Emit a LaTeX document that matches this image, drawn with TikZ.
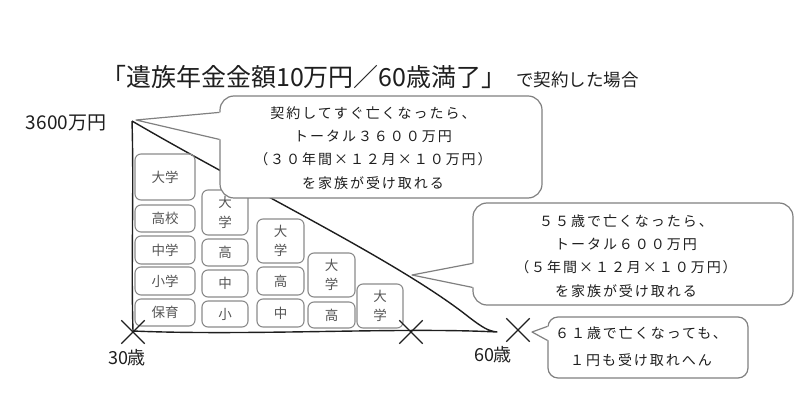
\documentclass[tikz,border=0pt]{standalone}
\usepackage{fontspec}
\setmainfont{Noto Sans CJK JP}
\newfontfamily\jp{Noto Sans CJK JP}
\newfontfamily\jpls[LetterSpace=14]{Noto Sans CJK JP}
\usetikzlibrary{shapes.misc}
\definecolor{ink}{HTML}{1E1E1E}
\definecolor{boxline}{HTML}{8A8A8A}
\definecolor{boxtext}{HTML}{555555}
\definecolor{bubline}{HTML}{808080}
\begin{document}
\begin{tikzpicture}[x=1pt,y=-1pt,
  cell/.style={draw=boxline, line width=1.1pt, rounded corners=6pt, inner sep=0pt, text=boxtext, font=\jp\fontsize{13.5}{19.5}\selectfont, align=center},
  bubble/.style={draw=bubline, line width=1.2pt, rounded corners=14pt, fill=white, inner sep=0pt},
  btext/.style={text=ink, align=center, inner sep=0pt, font=\jpls\fontsize{14}{23.3}\selectfont},
  pointer/.style={draw=bubline, line width=1.2pt, line join=round},
  axis/.style={draw=ink, line width=1.4pt, line join=round},
  xmark/.style={cross out, draw=ink, line width=1.4pt, minimum size=22pt, inner sep=0pt},
  lbl/.style={text=ink, inner sep=0pt}
]
\useasboundingbox (0,0) rectangle (800,419);

% title
\node[lbl, anchor=west, font=\jp\fontsize{25}{25}\selectfont] (t1) at (101,77) {「遺族年金金額10万円／60歳満了」};
\node[lbl, anchor=base west, font=\jp\fontsize{17.5}{17.5}\selectfont] (t2) at ([xshift=9pt]t1.base east) {で契約した場合};

% axis labels
\node[lbl, font=\jp\fontsize{19}{19}\selectfont] (top) at (66,123) {3600万円};
\node[lbl, font=\jp\fontsize{18}{18}\selectfont] (a30) at (127,358) {30歳};
\node[lbl, font=\jp\fontsize{18}{18}\selectfont] (a60) at (493,355) {60歳};

% triangle
\coordinate (T) at (132,121);
\coordinate (O) at (133,331);
\coordinate (E) at (497,332);
\draw[axis] (T) .. controls (134,190) and (131,265) .. (O)
  .. controls (250,336) and (400,327) .. (E)
  .. controls (488,331) and (482,327) .. (470,318)
  .. controls (400,262) and (250,190) .. (T);

% cells column 1
\node[cell, minimum width=60pt, minimum height=46pt] (c11) at (165,177) {大学};
\node[cell, minimum width=60pt, minimum height=27pt] (c12) at (165,218.5) {高校};
\node[cell, minimum width=60pt, minimum height=28pt] (c13) at (165,250) {中学};
\node[cell, minimum width=60pt, minimum height=28pt] (c14) at (165,281) {小学};
\node[cell, minimum width=60pt, minimum height=27pt] (c15) at (165,312.5) {保育};
% column 2
\node[cell, minimum width=46pt, minimum height=45pt] (c21) at (225,212.5) {大\\学};
\node[cell, minimum width=46pt, minimum height=27pt] (c22) at (225,252.5) {高};
\node[cell, minimum width=46pt, minimum height=27pt] (c23) at (225,283.5) {中};
\node[cell, minimum width=46pt, minimum height=26pt] (c24) at (225,314) {小};
% column 3
\node[cell, minimum width=47pt, minimum height=44pt] (c31) at (280.5,241) {大\\学};
\node[cell, minimum width=47pt, minimum height=28pt] (c32) at (280.5,281) {高};
\node[cell, minimum width=47pt, minimum height=28pt] (c33) at (280.5,313) {中};
% column 4
\node[cell, minimum width=47pt, minimum height=44pt] (c41) at (331.5,275) {大\\学};
\node[cell, minimum width=47pt, minimum height=26pt] (c42) at (331.5,315) {高};
% column 5
\node[cell, minimum width=46pt, minimum height=44pt] (c51) at (380,306) {大\\学};

% x marks
\node[xmark] (x30) at (133,332) {};
\node[xmark] (x55) at (411,332) {};
\node[xmark] (x61) at (518,330) {};

% bubble 1
\node[bubble, minimum width=322pt, minimum height=102pt] (b1) at (381,147) {};
\node[btext] (b1t) at (373,148)
  {契約してすぐ亡くなったら、\\トータル３６００万円\\（３０年間×１２月×１０万円）\\を家族が受け取れる};
\coordinate (p1) at (136,120);
\fill[white] ([xshift=1.5pt,yshift=-17pt]b1.north west) -- (p1) -- ([xshift=1.5pt,yshift=-44pt]b1.north west) -- cycle;
\draw[pointer] ([yshift=-17pt]b1.north west) -- (p1) -- ([yshift=-44pt]b1.north west);

% bubble 2
\node[bubble, minimum width=320pt, minimum height=102pt] (b2) at (633,254) {};
\node[btext] (b2t) at (626,256)
  {５５歳で亡くなったら、\\トータル６００万円\\（５年間×１２月×１０万円）\\を家族が受け取れる};
\coordinate (p2) at (412,275);
\fill[white] ([xshift=1.5pt,yshift=-61pt]b2.north west) -- (p2) -- ([xshift=1.5pt,yshift=-85pt]b2.north west) -- cycle;
\draw[pointer] ([yshift=-61pt]b2.north west) -- (p2) -- ([yshift=-85pt]b2.north west);

% bubble 3
\node[bubble, rounded corners=10pt, minimum width=200pt, minimum height=61pt] (b3) at (648,347.5) {};
\node[btext, font=\jpls\fontsize{14}{27}\selectfont] (b3t) at (641,347)
  {６１歳で亡くなっても、\\１円も受け取れへん};
\coordinate (p3) at (532,332);
\fill[white] ([xshift=1.5pt,yshift=-10pt]b3.north west) -- (p3) -- ([xshift=1.5pt,yshift=-24pt]b3.north west) -- cycle;
\draw[pointer] ([yshift=-10pt]b3.north west) -- (p3) -- ([yshift=-24pt]b3.north west);
\end{tikzpicture}
\end{document}
